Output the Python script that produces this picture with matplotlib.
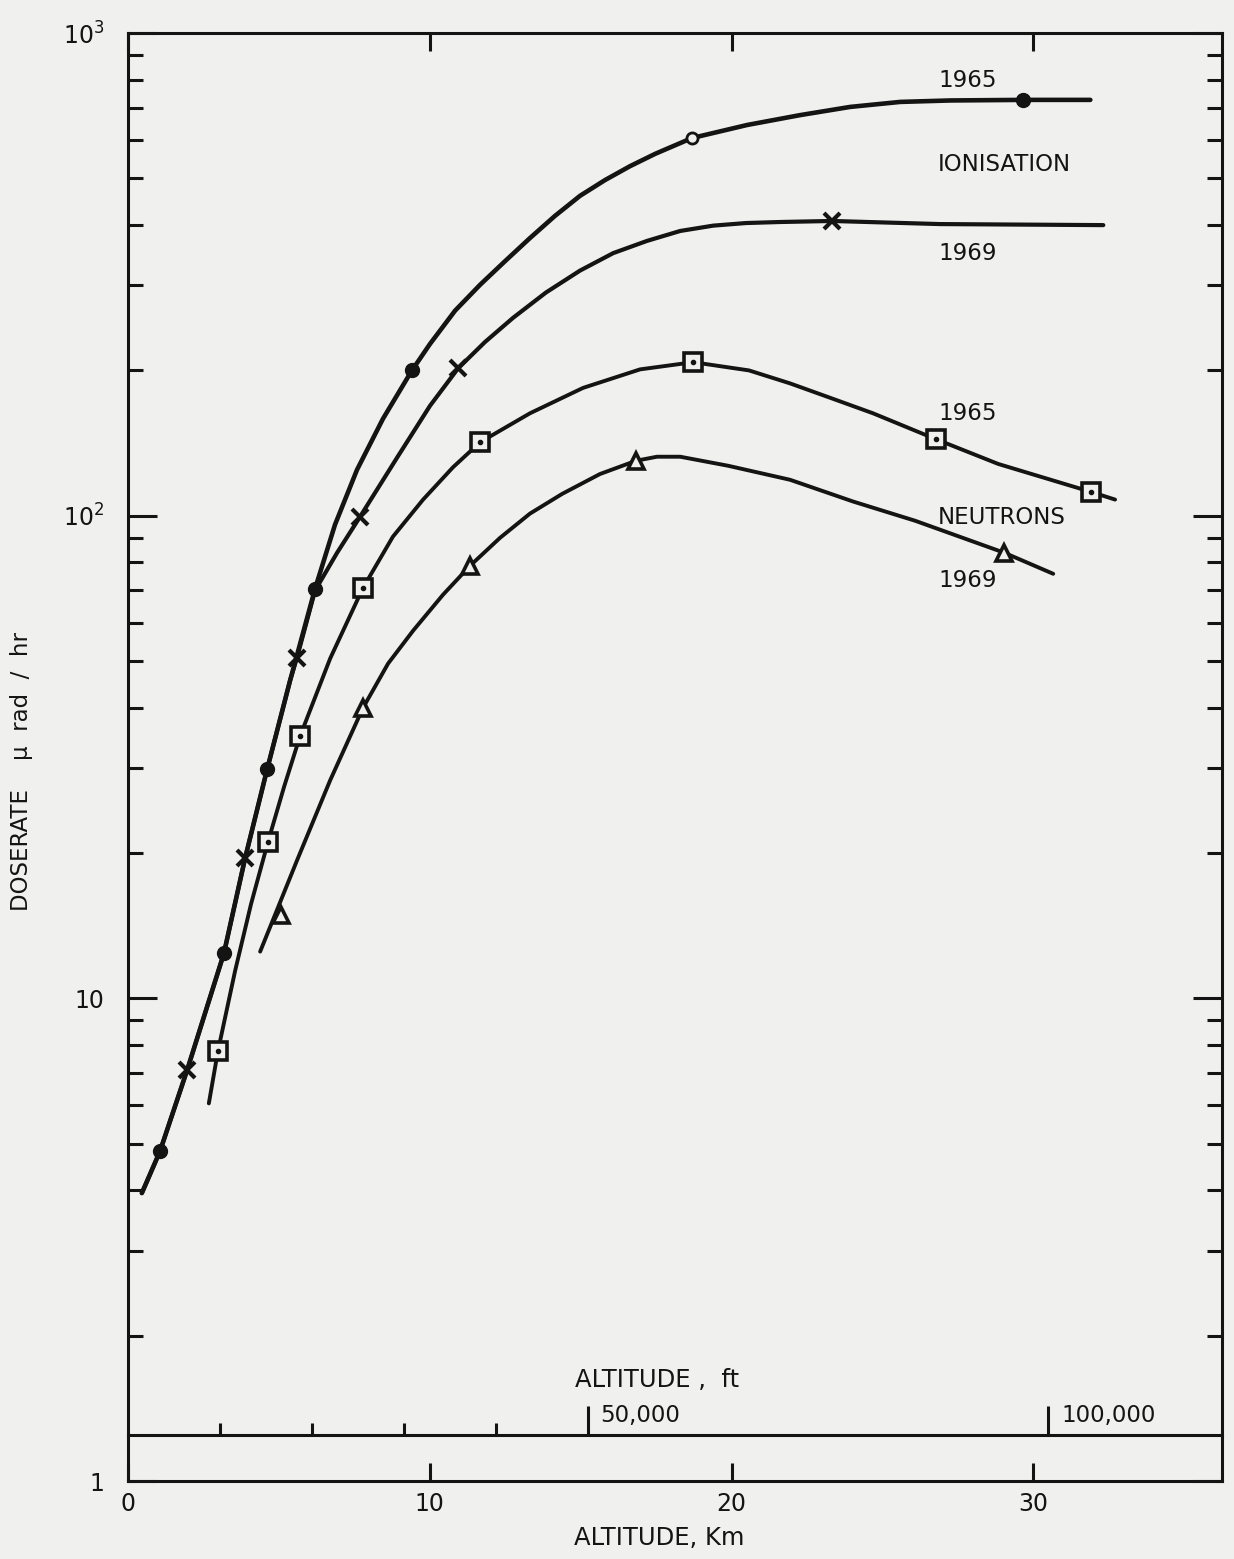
import numpy as np
import matplotlib.pyplot as plt

# values (altitude in km, dose rate in micro rad / hr)
ion65_km = [0.46, 1.06, 1.96, 3.18, 3.88, 4.61, 5.37, 6.20, 6.86, 7.59, 8.45, 9.41, 10.01,
            10.84, 11.67, 12.50, 13.32, 14.15, 14.98, 15.81, 16.64, 17.47, 18.69, 20.52,
            22.27, 23.93, 25.59, 27.25, 29.66, 31.89]
ion65_dose = [3.95, 4.82, 7.10, 12.4, 19.5, 29.8, 45.5, 70.6, 95.8, 124.5, 158.8, 200, 227,
              266, 301, 337, 376, 418, 460, 496, 530, 562, 606, 645,
              676, 703, 720, 725, 727, 727]

ion69_km = [0.46, 1.06, 1.96, 3.18, 3.88, 4.61, 5.37, 5.60, 6.20, 6.93, 7.69, 8.92, 10.01,
            10.94, 11.83, 12.76, 13.85, 14.98, 16.08, 17.20, 18.30, 19.39, 20.48, 21.61,
            23.33, 26.91, 32.32]
ion69_dose = [3.95, 4.82, 7.10, 12.4, 19.5, 29.8, 45.5, 50.8, 70.0, 83.8, 99.5, 132, 169,
              202, 229, 257, 290, 322, 350, 371, 389, 399, 404, 406,
              408, 402, 400]

neu65_km = [2.68, 2.98, 3.55, 4.08, 4.64, 5.17, 5.70, 6.70, 7.79, 8.78, 9.78, 10.77, 11.67,
            13.32, 15.08, 16.97, 18.73, 20.58, 21.94, 23.27, 24.69, 26.78, 28.84, 31.92, 32.71]
neu65_dose = [6.06, 7.77, 11.4, 15.7, 21.1, 27.4, 34.9, 50.6, 70.9, 90.5, 108, 126, 142,
              163, 184, 201, 208, 200, 188, 175.5, 163, 144, 128, 112, 108]

neu69_km = [4.38, 5.60, 6.70, 7.79, 8.62, 9.45, 10.44, 11.34, 12.33, 13.32, 14.39, 15.64,
            16.84, 17.53, 18.30, 19.89, 21.94, 24.03, 26.09, 29.04, 30.66]
neu69_dose = [12.5, 19.3, 28.3, 40.0, 49.4, 57.8, 68.6, 78.8, 90.0, 101, 111, 122,
              130, 132.5, 132.5, 126.9, 118.7, 107, 97.6, 83.8, 75.8]

# measured points (markers)
ion65_pts_km = [1.06, 3.18, 4.61, 6.20, 9.41, 29.66]
ion65_pts_dose = [4.82, 12.4, 29.8, 70.6, 200, 727]
ion65_open_km = [18.69]
ion65_open_dose = [606]
ion69_pts_km = [1.96, 3.88, 5.60, 7.69, 10.94, 23.33]
ion69_pts_dose = [7.10, 19.5, 50.8, 99.5, 202, 408]
neu65_pts_km = [2.98, 4.64, 5.70, 7.79, 11.67, 18.73, 26.78, 31.92]
neu65_pts_dose = [7.77, 21.1, 34.9, 70.9, 142, 208, 144, 112]
neu69_pts_km = [5.07, 7.79, 11.34, 16.84, 29.04]
neu69_pts_dose = [14.9, 40.0, 78.8, 130, 83.8]

# curve labels: (text, km, dose)
labels = [("1965", 26.85, 796), ("IONISATION", 26.85, 533), ("1969", 26.85, 350),
          ("1965", 26.85, 163), ("NEUTRONS", 26.85, 99), ("1969", 26.85, 73.4)]

ft_major = [50000, 100000]
ft_minor = [10000, 20000, 30000, 40000]
KM_PER_FT = 0.0003048

bg = '#f0f0ee'
ink = '#141414'
plt.rcParams['font.family'] = ['DejaVu Sans']

fig = plt.figure(figsize=(12.34, 15.59), dpi=100, facecolor=bg)
ax = fig.add_axes([0.1037, 0.05, 0.8865, 0.9288], facecolor=bg)
ax.set_yscale('log')
ax.set_xlim(0, 36.25)
ax.set_ylim(1, 1000)

line_kw = dict(color=ink, solid_capstyle='round', solid_joinstyle='round', zorder=2)
ax.plot(ion65_km, ion65_dose, lw=3.3, **line_kw)
ax.plot(ion69_km, ion69_dose, lw=3.0, **line_kw)
ax.plot(neu65_km, neu65_dose, lw=2.8, **line_kw)
ax.plot(neu69_km, neu69_dose, lw=2.8, **line_kw)

ax.plot(ion65_pts_km, ion65_pts_dose, 'o', ms=10, color=ink, zorder=4)
ax.plot(ion65_open_km, ion65_open_dose, 'o', ms=8, mfc=bg, mec=ink, mew=2, zorder=4)
ax.plot(ion69_pts_km, ion69_pts_dose, 'x', ms=11, mew=3, color=ink, zorder=4)
ax.plot(neu65_pts_km, neu65_pts_dose, 's', ms=13, mfc=bg, mec=ink, mew=2.6, zorder=4)
ax.plot(neu65_pts_km, neu65_pts_dose, 'o', ms=3, color=ink, zorder=5)
ax.plot(neu69_pts_km, neu69_pts_dose, '^', ms=12, mfc=bg, mec=ink, mew=2.6, zorder=4)

for txt, xk, yd in labels:
    ax.text(xk, yd, txt, fontsize=16.5, color=ink, ha='left', va='center')

for s in ax.spines.values():
    s.set_linewidth(2.2)
    s.set_color(ink)

ax.set_xticks([0, 10, 20, 30])
ax.set_xticklabels(['0', '10', '20', '30'])
ax.tick_params(axis='x', which='major', direction='in', top=True, bottom=True,
               length=13, width=2.2, color=ink, labelsize=17, pad=8, labelcolor=ink)
ax.set_yticks([1, 10, 100, 1000])
ax.set_yticklabels(['1', '10', r'$\mathregular{10^{2}}$', r'$\mathregular{10^{3}}$'])
ax.tick_params(axis='y', which='major', direction='in', left=True, right=True,
               length=21, width=2.2, color=ink, labelsize=17, pad=17, labelcolor=ink)
ax.tick_params(axis='y', which='minor', direction='in', left=True, right=True,
               length=11, width=2.2, color=ink, labelleft=False)

ax.set_xlabel('ALTITUDE, Km', fontsize=17.5, color=ink)
ax.xaxis.set_label_coords(0.486, -0.031)
ax.set_ylabel('DOSERATE    \u03bc  rad  /  hr', fontsize=16.5, color=ink)
ax.yaxis.set_label_coords(-0.087, 0.49)

# altitude in feet, drawn as a secondary scale just above the km axis
sec = ax.secondary_xaxis(0.0318, functions=(lambda k: k / KM_PER_FT, lambda f: f * KM_PER_FT))
sec.spines['bottom'].set_linewidth(2.2)
sec.spines['bottom'].set_color(ink)
sec.set_xticks(ft_major)
sec.set_xticks(ft_minor, minor=True)
sec.tick_params(which='major', direction='in', length=21, width=2.2, color=ink, labelbottom=False)
sec.tick_params(which='minor', direction='in', length=9, width=2.2, color=ink, labelbottom=False)

tr = ax.get_xaxis_transform()
ax.annotate('50,000', xy=(ft_major[0] * KM_PER_FT, 0.0318), xycoords=tr,
            xytext=(9, 14), textcoords='offset points', fontsize=16.5, color=ink,
            ha='left', va='center')
ax.annotate('100,000', xy=(ft_major[1] * KM_PER_FT, 0.0318), xycoords=tr,
            xytext=(10, 14), textcoords='offset points', fontsize=16.5, color=ink,
            ha='left', va='center')
ax.text(0.484, 0.0698, 'ALTITUDE ,  ft', transform=ax.transAxes, fontsize=17.5,
        color=ink, ha='center', va='center')

fig.savefig('out.png', dpi=100, facecolor=bg)
